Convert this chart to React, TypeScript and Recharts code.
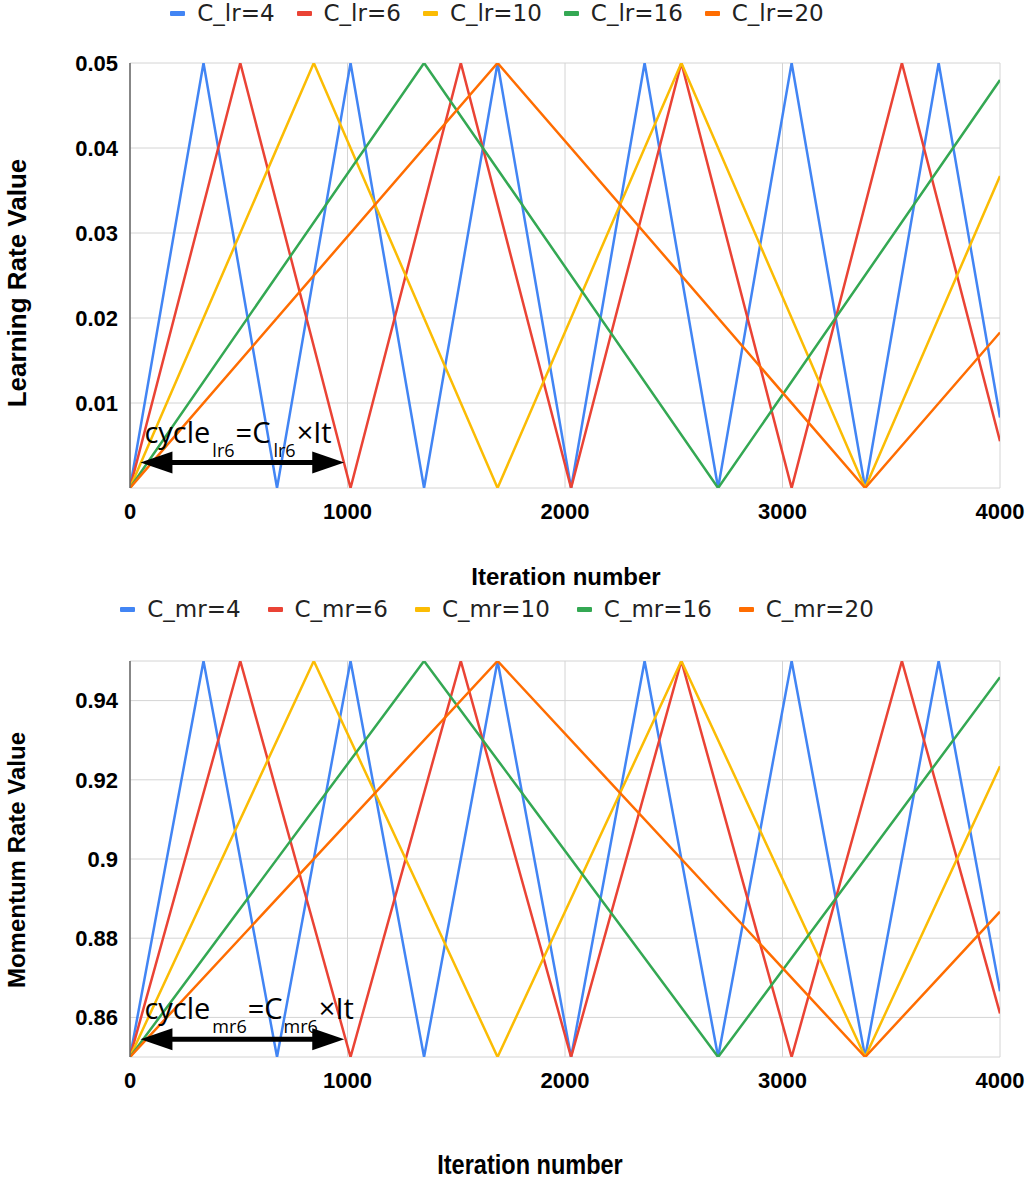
import React from "react";
import {
  LineChart,
  Line,
  XAxis,
  YAxis,
  CartesianGrid,
  ReferenceLine,
} from "recharts";

// x ticks shared by both panels
const xTicks = [0, 1000, 2000, 3000, 4000];
const lrTicks = [0.01, 0.02, 0.03, 0.04, 0.05];
const mrTicks = [0.86, 0.88, 0.9, 0.92, 0.94];

const cycleSizes = [4, 6, 10, 16, 20];
const seriesColors = ["#4285F4", "#EA4335", "#FBBC04", "#34A853", "#FF6D01"];

// turning points (iteration) of each triangle schedule
const itC4 = [0, 338, 676, 1014, 1352, 1690, 2028, 2366, 2704, 3042, 3380, 3718, 4000];
const itC6 = [0, 507, 1014, 1521, 2028, 2535, 3042, 3549, 4000];
const itC10 = [0, 845, 1690, 2535, 3380, 4000];
const itC16 = [0, 1352, 2704, 4000];
const itC20 = [0, 1690, 3380, 4000];

// learning rate at those points
const lrC4 = [0, 0.05, 0, 0.05, 0, 0.05, 0, 0.05, 0, 0.05, 0, 0.05, 0.0083];
const lrC6 = [0, 0.05, 0, 0.05, 0, 0.05, 0, 0.05, 0.0055];
const lrC10 = [0, 0.05, 0, 0.05, 0, 0.0367];
const lrC16 = [0, 0.05, 0, 0.048];
const lrC20 = [0, 0.05, 0, 0.0183];

// momentum at those points
const mrC4 = [0.85, 0.95, 0.85, 0.95, 0.85, 0.95, 0.85, 0.95, 0.85, 0.95, 0.85, 0.95, 0.8666];
const mrC6 = [0.85, 0.95, 0.85, 0.95, 0.85, 0.95, 0.85, 0.95, 0.861];
const mrC10 = [0.85, 0.95, 0.85, 0.95, 0.85, 0.9234];
const mrC16 = [0.85, 0.95, 0.85, 0.9459];
const mrC20 = [0.85, 0.95, 0.85, 0.8867];

const iterSets = [itC4, itC6, itC10, itC16, itC20];
const lrSets = [lrC4, lrC6, lrC10, lrC16, lrC20];
const mrSets = [mrC4, mrC6, mrC10, mrC16, mrC20];

const toPoints = (xs: number[], ys: number[]) => xs.map((x, i) => ({ x, y: ys[i] }));

const tickStyle = { fill: "#000", fontSize: 22, fontWeight: 700, fontFamily: "Liberation Sans, Arial, sans-serif" };
const titleFont = "Liberation Sans, Arial, sans-serif";

function makeArrow(sub: string, gaps: number[]) {
  return (p: any) => {
    const { x1, x2, y1 } = p;
    const y = y1;
    const head = 32;
    const half = 11;
    return (
      <g>
        <line x1={x1 + head - 2} y1={y} x2={x2 - head + 2} y2={y} stroke="#000" strokeWidth={5} />
        <polygon points={`${x1},${y} ${x1 + head},${y - half} ${x1 + head},${y + half}`} fill="#000" />
        <polygon points={`${x2},${y} ${x2 - head},${y - half} ${x2 - head},${y + half}`} fill="#000" />
        <text x={x1 + 4} y={y - 20} fontFamily="Open Sans, sans-serif" fontSize={29} fill="#000">
          <tspan>cycle</tspan>
          <tspan dx={gaps[0]} y={y - 6} fontSize={18}>{sub}</tspan>
          <tspan dx={gaps[1]} y={y - 20}>=C</tspan>
          <tspan dx={gaps[2]} y={y - 6} fontSize={18}>{sub}</tspan>
          <tspan dx={gaps[3]} y={y - 20}>×It</tspan>
        </text>
      </g>
    );
  };
}

function Legend({ prefix, top, gap }: { prefix: string; top: number; gap: number }) {
  return (
    <div
      style={{
        position: "absolute",
        top,
        left: 0,
        width: 994,
        height: 26,
        display: "flex",
        alignItems: "center",
        justifyContent: "center",
        gap,
        fontFamily: "DejaVu Sans, sans-serif",
        fontSize: 23,
        color: "#222",
      }}
    >
      {cycleSizes.map((c, i) => (
        <div key={c} style={{ display: "flex", alignItems: "center", whiteSpace: "nowrap" }}>
          <span style={{ width: 15, height: 5, background: seriesColors[i], borderRadius: 1, marginRight: 12 }} />
          <span>{`${prefix}=${c}`}</span>
        </div>
      ))}
    </div>
  );
}

function Panel({
  sets,
  ticks,
  domain,
  arrowY,
  sub,
  gaps,
  height,
  margin,
}: {
  sets: number[][];
  ticks: number[];
  domain: [number, number];
  arrowY: number;
  sub: string;
  gaps: number[];
  height: number;
  margin: { top: number; right: number; bottom: number; left: number };
}) {
  return (
    <LineChart width={1029} height={height} margin={margin}>
      <CartesianGrid stroke="#d4d4d4" strokeWidth={1} />
      <XAxis
        dataKey="x"
        type="number"
        domain={[0, 4000]}
        ticks={xTicks}
        allowDataOverflow
        axisLine={false}
        tickLine={false}
        tickSize={0}
        tickMargin={15}
        height={40}
        tick={tickStyle}
      />
      <YAxis
        type="number"
        domain={domain}
        ticks={ticks}
        allowDataOverflow
        width={130}
        axisLine={{ stroke: "#666", strokeWidth: 1.5 }}
        tickLine={false}
        tickSize={0}
        tickMargin={12}
        tick={tickStyle}
        tickFormatter={(v: number) => String(+v.toFixed(2))}
      />
      {sets.map((ys, i) => (
        <Line
          key={cycleSizes[i]}
          data={toPoints(iterSets[i], ys)}
          dataKey="y"
          type="linear"
          stroke={seriesColors[i]}
          strokeWidth={2.5}
          dot={false}
          activeDot={false}
          isAnimationActive={false}
        />
      ))}
      <ReferenceLine
        segment={[
          { x: 48, y: arrowY },
          { x: 985, y: arrowY },
        ]}
        ifOverflow="visible"
        shape={makeArrow(sub, gaps)}
      />
    </LineChart>
  );
}

export default function App() {
  return (
    <div style={{ position: "absolute", left: 0, top: 0, width: 1029, height: 1179, background: "#fff" }}>
      <div style={{ position: "absolute", left: 0, top: 0 }}>
        <Panel
          sets={lrSets}
          ticks={lrTicks}
          domain={[0, 0.05]}
          arrowY={0.003}
          sub="lr6"
          gaps={[2, 1, 3, 1]}
          height={590}
          margin={{ top: 63, right: 29, bottom: 62, left: 0 }}
        />
      </div>
      <div style={{ position: "absolute", left: 0, top: 590 }}>
        <Panel
          sets={mrSets}
          ticks={mrTicks}
          domain={[0.85, 0.95]}
          arrowY={0.8545}
          sub="mr6"
          gaps={[2, 1, 1, 1]}
          height={589}
          margin={{ top: 71, right: 29, bottom: 82, left: 0 }}
        />
      </div>

      <Legend prefix="C_lr" top={0} gap={22} />
      <Legend prefix="C_mr" top={596} gap={27} />

      <div
        style={{
          position: "absolute",
          left: 17,
          top: 283,
          transform: "translate(-50%, -50%) rotate(-90deg)",
          whiteSpace: "nowrap",
          fontFamily: titleFont,
          fontWeight: 700,
          fontSize: 26,
        }}
      >
        Learning Rate Value
      </div>
      <div
        style={{
          position: "absolute",
          left: 17,
          top: 860,
          transform: "translate(-50%, -50%) rotate(-90deg)",
          whiteSpace: "nowrap",
          fontFamily: titleFont,
          fontWeight: 700,
          fontSize: 24,
        }}
      >
        Momentum Rate Value
      </div>
      <div
        style={{
          position: "absolute",
          left: 566,
          top: 577,
          transform: "translate(-50%, -50%)",
          whiteSpace: "nowrap",
          fontFamily: titleFont,
          fontWeight: 700,
          fontSize: 24,
        }}
      >
        Iteration number
      </div>
      <div
        style={{
          position: "absolute",
          left: 530,
          top: 1165,
          transform: "translate(-50%, -50%) scaleX(0.84)",
          whiteSpace: "nowrap",
          fontFamily: titleFont,
          fontWeight: 700,
          fontSize: 28,
        }}
      >
        Iteration number
      </div>
    </div>
  );
}
